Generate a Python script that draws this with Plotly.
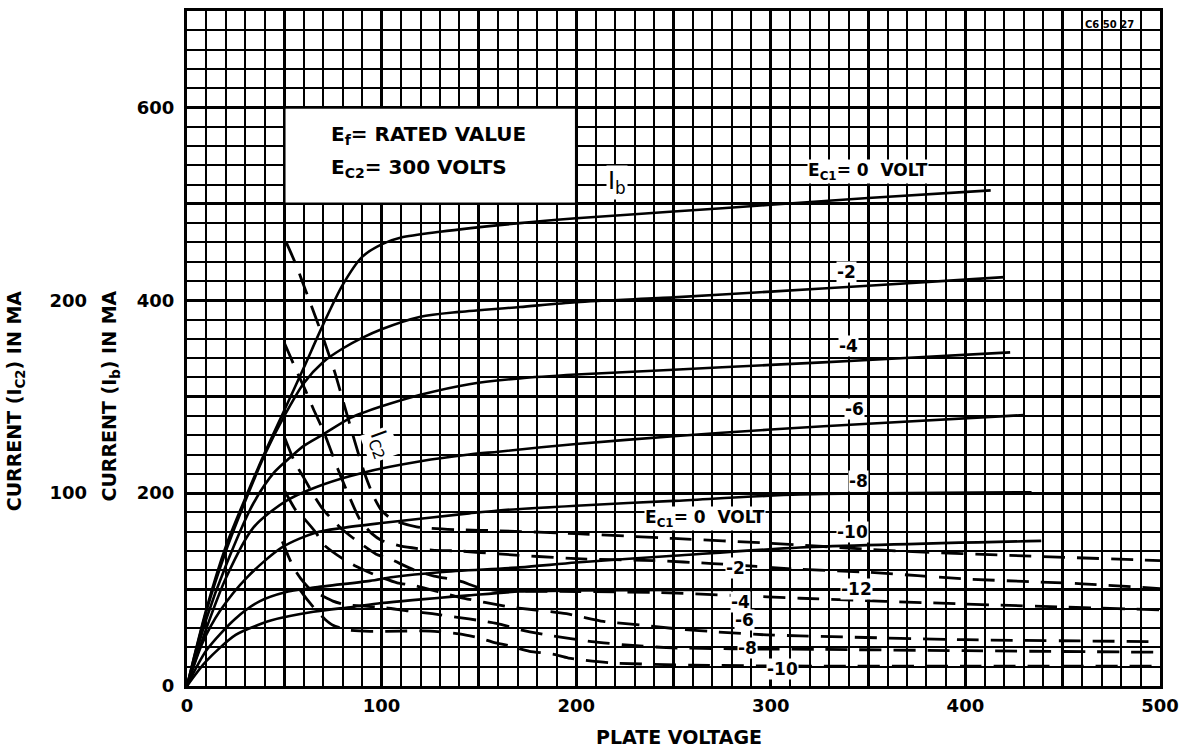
import plotly.graph_objects as go

# ---------------- data ----------------
# Plate current Ib (mA) vs plate voltage (V), solid curves, by control-grid bias Ec1
ib_v_0 = [0, 10, 20, 30, 40, 50, 60, 70, 80, 90, 100, 110, 130, 171, 200, 250, 300, 350, 413]
ib_ma_0 = [0, 80, 145, 195, 242, 286, 330, 375, 416, 445, 458, 465, 471, 480, 485, 492, 499, 506, 514]

ib_v_m2 = [0, 10, 20, 30, 40, 50, 60, 70, 80, 90, 100, 120, 140, 171, 200, 250, 300, 350, 420]
ib_ma_m2 = [0, 78, 140, 192, 240, 280, 314, 336, 350, 361, 370, 383, 388, 393, 398, 403, 409, 415, 424]

ib_v_m4 = [0, 10, 20, 34, 45, 53, 60, 70, 84, 90, 100, 120, 145, 171, 200, 250, 300, 350, 423]
ib_ma_m4 = [0, 70, 125, 189, 222, 237, 249, 261, 278, 283, 290, 302, 313, 319, 323, 328, 333, 338, 346]

ib_v_m6 = [0, 10, 20, 34, 51, 70, 90, 120, 145, 160, 200, 250, 300, 350, 430]
ib_ma_m6 = [0, 60, 112, 164, 192, 209, 221, 233, 240, 243, 251, 259, 266, 272, 281]

ib_v_m8 = [0, 8, 17, 31, 49, 66, 80, 100, 145, 160, 200, 250, 315, 434]
ib_ma_m8 = [0, 45, 78, 113, 144, 159, 164, 169, 179, 182, 187, 192, 198.6, 201]

ib_v_m10 = [0, 10, 25, 37.5, 50, 65, 94, 106, 130, 171, 200, 250, 315, 439]
ib_ma_m10 = [0, 37, 70, 88, 97, 102, 109, 113, 118, 123, 128, 135, 143.6, 150.5]

ib_v_m12 = [0, 10, 25, 37.5, 43, 65, 85, 100, 145, 171, 200, 250, 330, 439]
ib_ma_m12 = [0, 26, 53, 64, 68, 77, 82, 86, 94, 98, 99, 99.5, 100, 100]

# Screen-grid current Ic2 (mA, on the Ic2 scale) vs plate voltage, dashed curves
ic2_v_0 = [51, 56, 61, 66, 71, 76, 81, 86, 91, 96, 100, 106, 118, 140, 160, 200, 250, 300, 366, 430, 500]
ic2_ma_0 = [230, 218.5, 205, 191.5, 177.5, 162.5, 145, 127.5, 111, 98, 91, 86, 82.5, 81, 80.5, 79, 76.5, 74, 70, 67.5, 65]

ic2_v_m2 = [50, 56, 61, 65, 70, 73.4, 77.5, 82, 89, 95, 100, 110, 126, 140, 160, 200, 240, 270, 315, 350, 400, 460, 500]
ic2_ma_m2 = [178, 164, 153, 143.5, 132.5, 123.5, 112.5, 101.5, 86, 79, 75.5, 72.5, 70.5, 70, 68.5, 66, 65, 63.5, 60.5, 59, 55.5, 53, 50.5]

ic2_v_m4 = [50.3, 55.4, 60.6, 65.7, 70, 75, 80, 85, 97, 104, 117, 127, 140, 150, 160, 200, 240, 280, 315, 400, 500]
ic2_ma_m4 = [128.5, 116, 107, 98, 91.5, 86, 81, 77, 68.5, 66, 60, 57, 54.5, 51, 49.5, 49, 48.5, 47, 45.5, 42.5, 39.5]

ic2_v_m6 = [50.3, 56, 60, 66.6, 70, 80, 86, 98, 108, 117, 140, 166, 195, 214, 234, 253, 273, 298, 315, 400, 500]
ic2_ma_m6 = [101, 91, 87, 79, 73.5, 66, 62.5, 57, 53.5, 52, 46, 41, 37.5, 33.5, 31.5, 29.5, 28, 26.5, 26, 24, 23]

ic2_v_m8 = [49, 52, 55, 59, 63, 66, 69, 75, 82, 90, 102, 113, 126, 140, 150, 159, 172, 186, 208, 229, 249, 280, 324, 400, 500]
ic2_ma_m8 = [75, 67.5, 61, 55, 50.5, 48.5, 47, 44, 42, 41.5, 40.5, 39, 37.5, 35.5, 34, 32.5, 29, 26.3, 23, 21, 19.8, 19.3, 19, 18.3, 17.5]

ic2_v_m10 = [58, 62, 66.6, 71, 75, 83, 94, 110, 125, 140, 150, 158, 165, 176, 188, 196, 218, 260, 324, 400, 500]
ic2_ma_m10 = [50, 44.5, 39, 34.5, 31.5, 29, 28.3, 28.5, 28.5, 27, 25, 22.5, 21, 18, 16.5, 14.5, 12, 10.8, 10.3, 10.3, 10.3]

# axis tick values / labels
x_tickvals = [0, 50, 100, 150, 200, 250, 300, 350, 400, 450, 500]
x_ticktext = ["0", "", "100", "", "200", "", "300", "", "400", "", "500"]
y_tickvals = [0, 100, 200, 300, 400, 500, 600, 700]
y_ticktext = ["0", "", "200", "", "400", "", "600", ""]
y2_tickvals = [100, 200]
y2_ticktext = ["100", "200"]

# curve labels: (text, plate voltage, current on Ib scale)
ECI0 = "E<sub>C1</sub>=&nbsp;0&nbsp;&nbsp;VOLT"
ib_labels = [(ECI0, 350, 534), ("-2", 339, 429), ("-4", 340, 353),
             ("-6", 343, 287), ("-8", 345, 213), ("-10", 342, 160), ("-12", 344, 101)]
ic2_labels = [(ECI0, 266, 174), ("-2", 282, 122), ("-4", 284.5, 87),
              ("-6", 286.5, 68), ("-8", 288, 39), ("-10", 306, 17.5)]

# ---------------- figure ----------------
FONT = "DejaVu Sans"
fig = go.Figure()

solid = [(ib_v_0, ib_ma_0), (ib_v_m2, ib_ma_m2), (ib_v_m4, ib_ma_m4), (ib_v_m6, ib_ma_m6),
         (ib_v_m8, ib_ma_m8), (ib_v_m10, ib_ma_m10), (ib_v_m12, ib_ma_m12)]
for v, i in solid:
    fig.add_trace(go.Scatter(x=v, y=i, mode="lines", yaxis="y",
                             line=dict(color="black", width=2.6, shape="spline", smoothing=0.8),
                             hoverinfo="skip", showlegend=False))

dashed = [(ic2_v_0, ic2_ma_0), (ic2_v_m2, ic2_ma_m2), (ic2_v_m4, ic2_ma_m4),
          (ic2_v_m6, ic2_ma_m6), (ic2_v_m8, ic2_ma_m8), (ic2_v_m10, ic2_ma_m10)]
for v, i in dashed:
    fig.add_trace(go.Scatter(x=v, y=i, mode="lines", yaxis="y2",
                             line=dict(color="black", width=2.8, dash="22px,12px",
                                       shape="spline", smoothing=0.6),
                             hoverinfo="skip", showlegend=False))

tick_font = dict(family=FONT, size=18, color="black", weight="bold")

fig.update_layout(
    width=1187, height=752,
    margin=dict(l=187, r=26, t=8, b=66),
    paper_bgcolor="white", plot_bgcolor="white",
    showlegend=False,
    xaxis=dict(range=[0, 500], tickvals=x_tickvals, ticktext=x_ticktext,
               showgrid=True, gridcolor="black", gridwidth=2.6,
               minor=dict(tick0=0, dtick=10, showgrid=True, gridcolor="black", gridwidth=1.7),
               showline=True, linecolor="black", linewidth=3, mirror=True,
               zeroline=False, ticks="", tickfont=tick_font, ticklabelstandoff=1),
    yaxis=dict(range=[0, 700], tickvals=y_tickvals, ticktext=y_ticktext,
               showgrid=True, gridcolor="black", gridwidth=2.6,
               minor=dict(tick0=0, dtick=20, showgrid=True, gridcolor="black", gridwidth=1.7),
               showline=True, linecolor="black", linewidth=3, mirror=True,
               zeroline=False, ticks="", tickfont=tick_font, ticklabelstandoff=6),
    yaxis2=dict(range=[0, 350], overlaying="y", side="left", anchor="free", position=0,
                tickvals=y2_tickvals, ticktext=y2_ticktext, showgrid=False,
                zeroline=False, showline=False, ticks="", tickfont=tick_font,
                ticklabelstandoff=100),
)

# white box with operating conditions
fig.add_shape(type="rect", xref="x", yref="y", x0=50, x1=200, y0=500, y1=600,
              fillcolor="white", line=dict(color="black", width=2.5), layer="above")

box_font = dict(family=FONT, size=20, color="black", weight="bold")
ttl = dict(family=FONT, size=19, color="black", weight="bold")
lbl = dict(family=FONT, size=17, color="black", weight="bold")
fig.add_annotation(x=73, y=571, xref="x", yref="y", xanchor="left", yanchor="middle",
                   text="E<sub>f</sub>= RATED VALUE", showarrow=False, font=box_font)
fig.add_annotation(x=73, y=537, xref="x", yref="y", xanchor="left", yanchor="middle",
                   text="E<sub>C2</sub>= 300 VOLTS", showarrow=False, font=box_font)

for t, xv, yv in ib_labels + ic2_labels:
    fig.add_annotation(x=xv, y=yv, xref="x", yref="y", text=t, showarrow=False,
                       font=lbl, bgcolor="white", borderpad=0)

fig.add_annotation(x=221, y=522, xref="x", yref="y", text="I<sub>b</sub>", showarrow=False,
                   font=dict(family=FONT, size=24, color="black"), bgcolor="white", borderpad=1)
fig.add_annotation(x=99, y=250, xref="x", yref="y", text="I<sub>C2</sub>", showarrow=False,
                   textangle=70, font=dict(family=FONT, size=22, color="black"),
                   bgcolor="white", borderpad=1)
fig.add_annotation(x=474, y=686, xref="x", yref="y", text="C6 50 27", showarrow=False,
                   font=dict(family=FONT, size=10, color="black", weight="bold"))

# axis titles
fig.add_annotation(x=0.506, y=-0.075, xref="paper", yref="paper", text="PLATE VOLTAGE",
                   showarrow=False, font=ttl, xanchor="center", yanchor="middle")
fig.add_annotation(x=-0.079, y=0.429, xref="paper", yref="paper",
                   text="CURRENT (I<sub>b</sub>) IN MA", textangle=-90, showarrow=False,
                   font=ttl, xanchor="center", yanchor="middle")
fig.add_annotation(x=-0.1766, y=0.422, xref="paper", yref="paper",
                   text="CURRENT (I<sub>C2</sub>) IN MA", textangle=-90, showarrow=False,
                   font=ttl, xanchor="center", yanchor="middle")

fig.write_html("out.html", config={"displayModeBar": False},
               post_script="document.body.style.margin='0px';")
